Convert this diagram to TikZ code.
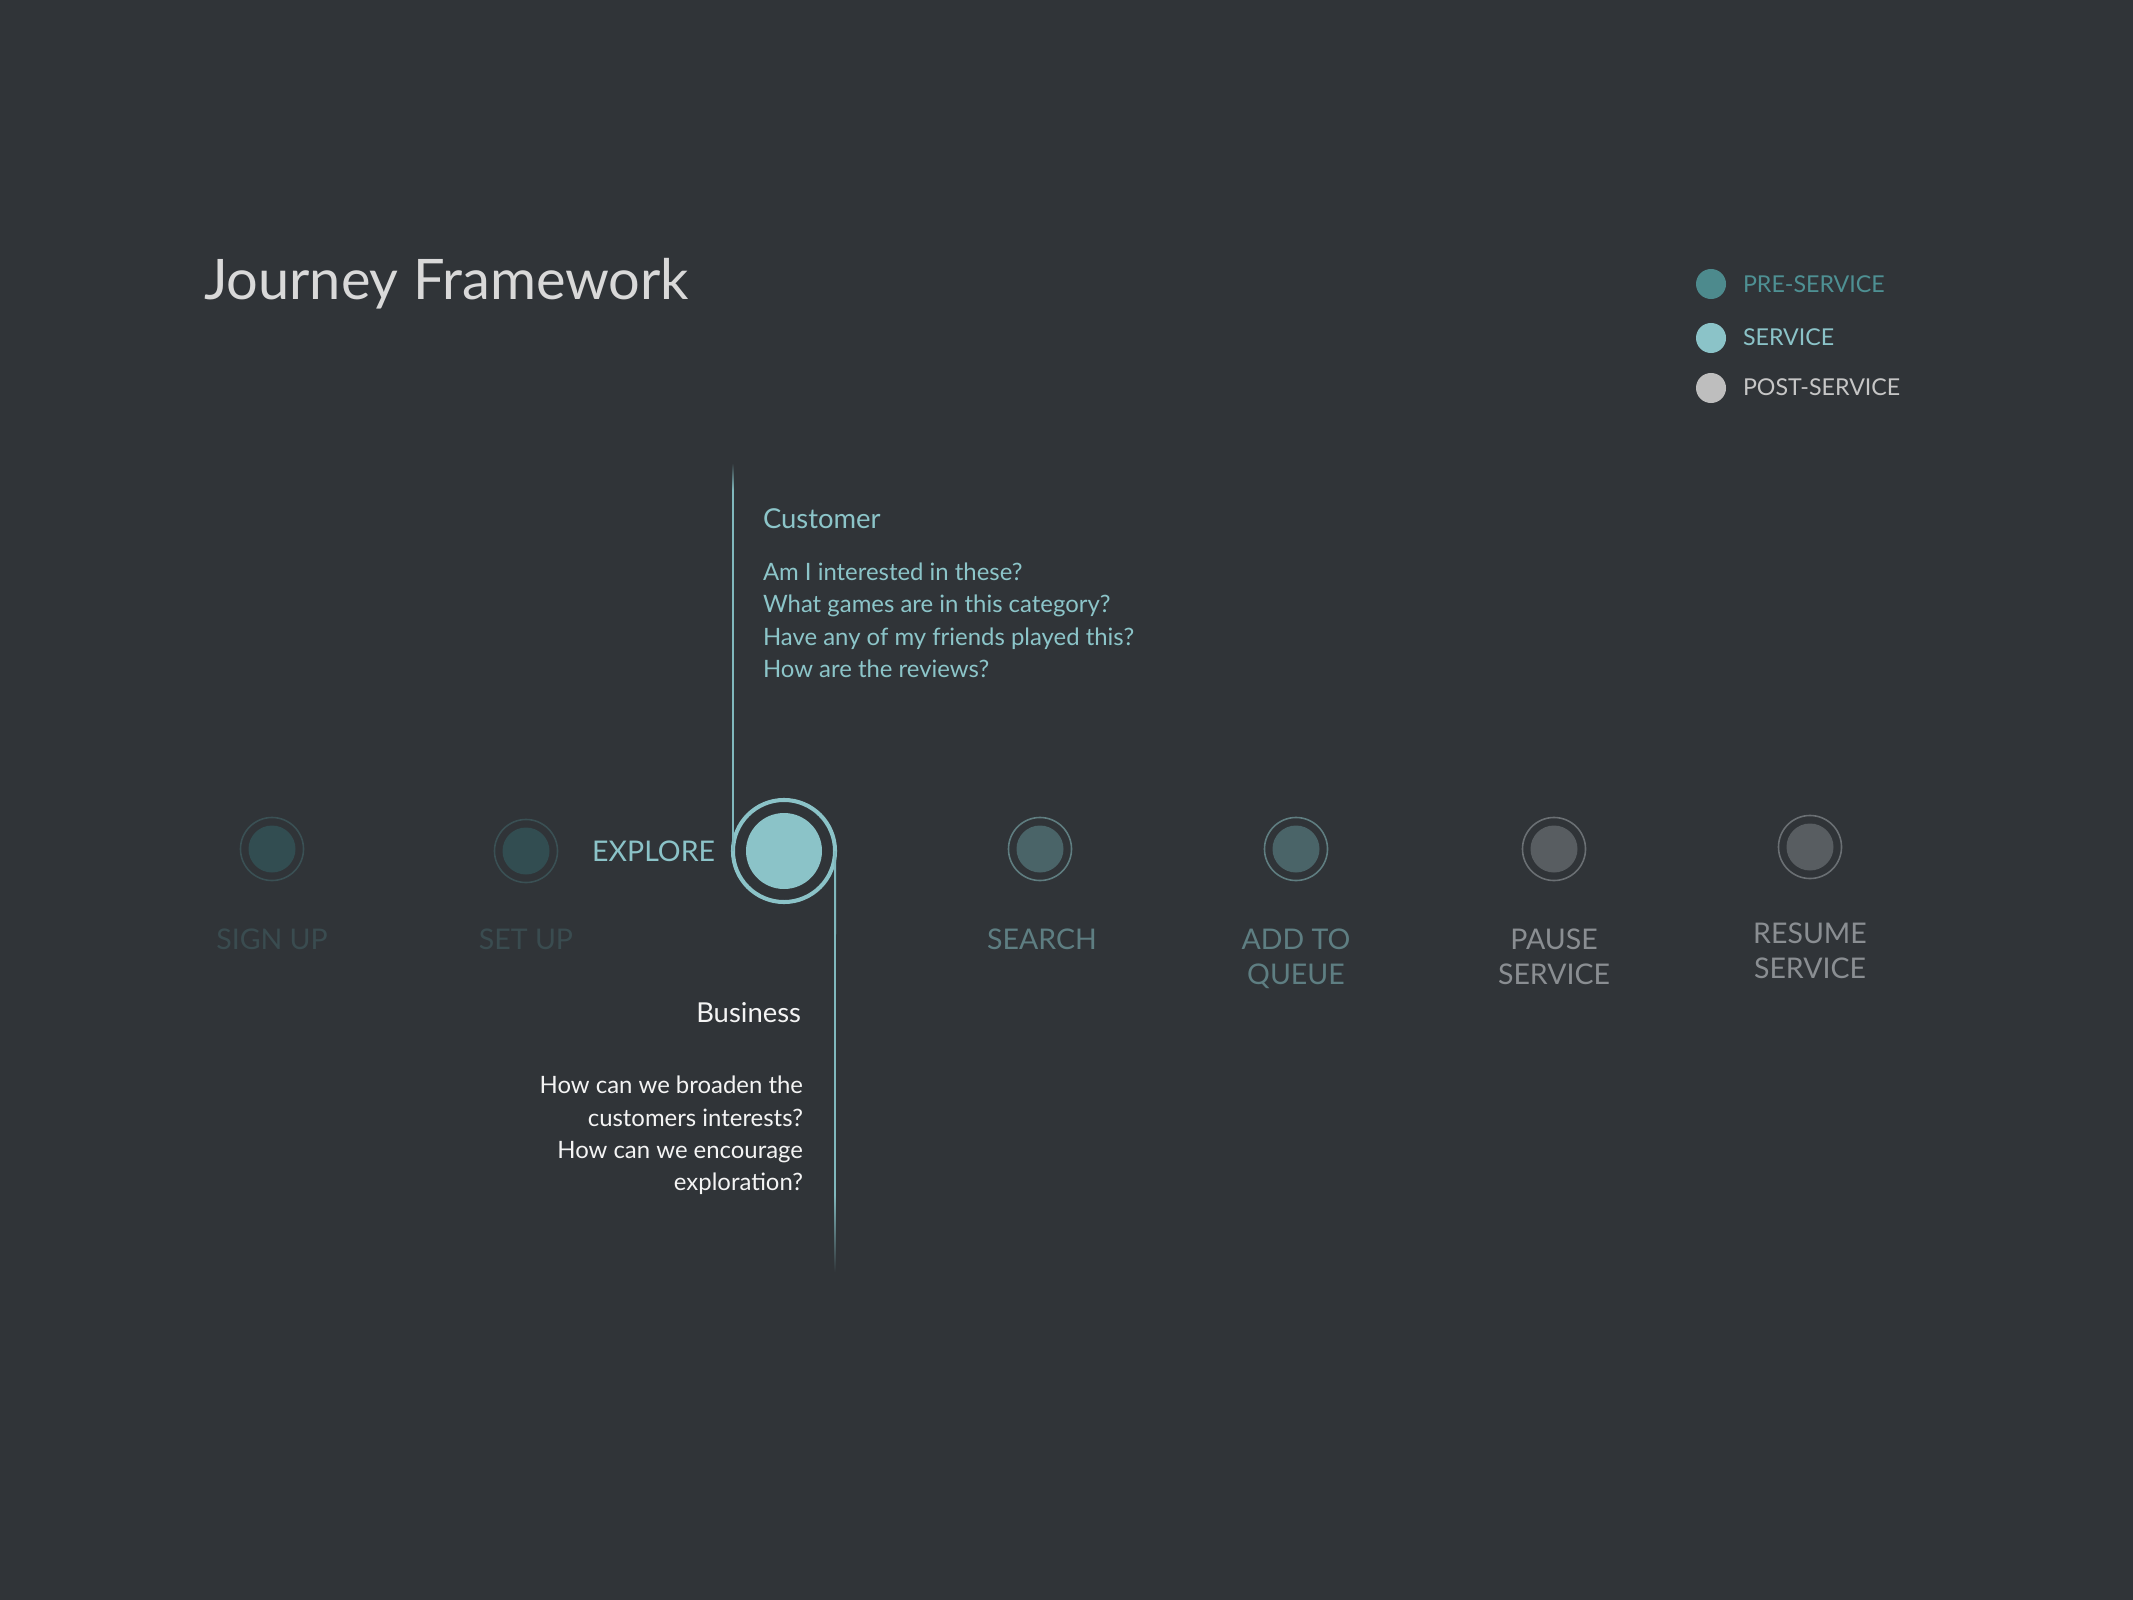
\documentclass[tikz,border=0pt]{standalone}
\usepackage{fontspec}
\setmainfont{Lato}
\definecolor{bg}{HTML}{303438}
\definecolor{tealline}{HTML}{80B8BD}
\definecolor{svc}{HTML}{8BC3C8}
\definecolor{pre}{HTML}{4D8A8D}
\definecolor{pretext}{HTML}{4E9093}
\definecolor{post}{HTML}{BEBEBE}
\definecolor{posttext}{HTML}{C6C6C6}
\definecolor{titlec}{HTML}{D9D9D9}
\definecolor{custc}{HTML}{8CC5C9}
\definecolor{busc}{HTML}{F4F4F4}
\definecolor{dimring}{HTML}{3A5054}
\definecolor{dimfill}{HTML}{324D51}
\definecolor{dimtext}{HTML}{3A4C50}
\definecolor{midring}{HTML}{5F7D80}
\definecolor{midfill}{HTML}{4A6468}
\definecolor{midtext}{HTML}{5E7E82}
\definecolor{grayring}{HTML}{6A6F73}
\definecolor{grayfill}{HTML}{585D61}
\definecolor{graytext}{HTML}{8A8E92}
\tikzset{
  txt/.style={inner sep=0pt, outer sep=0pt},
  titlefont/.style={txt, font=\fontsize{15.9}{18}\selectfont, text=titlec},
  legfont/.style={txt, font=\fontsize{6.6}{8}\selectfont},
  stagefont/.style={txt, font=\fontsize{8.1}{9.5}\selectfont},
  headfont/.style={txt, font=\fontsize{7.8}{9.5}\selectfont},
  bodyfont/.style={txt, font=\fontsize{6.8}{9}\selectfont},
  smallring/.style={circle, draw=#1, line width=0.45pt, minimum size=0.63cm, inner sep=0pt, outer sep=0pt},
  bigring/.style={circle, draw=svc, line width=1.15pt, minimum size=1.02cm, inner sep=0pt, outer sep=0pt},
  legdot/.style={circle, fill=#1, minimum size=0.3cm, inner sep=0pt},
  conn/.style={draw=tealline, line width=0.55pt},
}
\begin{document}
\begin{tikzpicture}[x=0.01cm,y=-0.01cm]
\fill[bg] (0,0) rectangle (2133,1600);
\useasboundingbox (0,0) rectangle (2133,1600);

% title
\node[titlefont, anchor=base west] (title) at (204,299) {Journey Framework};

% legend
\node[legdot=pre] (lpre) at (1711,284) {};
\node[legdot=svc] (lsvc) at (1711,338) {};
\node[legdot=post] (lpost) at (1711,388) {};
\node[legfont, text=pretext, anchor=base west] (tpre) at (1743,292) {PRE-SERVICE};
\node[legfont, text=svc, anchor=base west] (tsvc) at (1743,345) {SERVICE};
\node[legfont, text=posttext, anchor=base west] (tpost) at (1743,395) {POST-SERVICE};

% stage circles
\node[smallring=dimring] (signup) at (272,849) {};
\fill[dimfill] (signup.center) circle (23.5);
\node[smallring=dimring] (setup) at (526,851) {};
\fill[dimfill] (setup.center) circle (23.5);
\node[bigring] (explore) at (784,851) {};
\fill[svc] (explore.center) circle (38);
\node[smallring=midring] (search) at (1040,849) {};
\fill[midfill] (search.center) circle (23.5);
\node[smallring=midring] (queue) at (1296,849) {};
\fill[midfill] (queue.center) circle (23.5);
\node[smallring=grayring] (pause) at (1554,849) {};
\fill[grayfill] (pause.center) circle (23.5);
\node[smallring=grayring] (resume) at (1810,847) {};
\fill[grayfill] (resume.center) circle (23.5);

% stage labels
\node[stagefont, text=svc, anchor=base east] (lexplore) at (715,861) {EXPLORE};
\node[stagefont, text=dimtext, anchor=base] (lsignup) at (272,949) {SIGN UP};
\node[stagefont, text=dimtext, anchor=base] (lsetup) at (526,949) {SET UP};
\node[stagefont, text=midtext, anchor=base] (lsearch) at (1042,949) {SEARCH};
\node[stagefont, text=midtext, anchor=base] (lqueue1) at (1296,949) {ADD TO};
\node[stagefont, text=midtext, anchor=base] (lqueue2) at (1296,984) {QUEUE};
\node[stagefont, text=graytext, anchor=base] (lpause1) at (1554,949) {PAUSE};
\node[stagefont, text=graytext, anchor=base] (lpause2) at (1554,984) {SERVICE};
\node[stagefont, text=graytext, anchor=base] (lresume1) at (1810,943) {RESUME};
\node[stagefont, text=graytext, anchor=base] (lresume2) at (1810,978) {SERVICE};

% connectors
\coordinate (ctop) at (733,463);
\coordinate (ctopfade) at (733,490);
\coordinate (cbotfade) at (835,1195);
\coordinate (cbot) at (835,1272);
\shade[top color=bg, bottom color=tealline] ([xshift=-0.28pt]ctop) rectangle ([xshift=0.28pt]ctopfade);
\path[conn] (ctopfade) -- (explore.west);
\path[conn] (explore.east) -- (cbotfade);
\shade[top color=tealline, bottom color=bg] ([xshift=-0.28pt]cbotfade) rectangle ([xshift=0.28pt]cbot);

% customer block
\node[headfont, text=custc, anchor=base west] (custhead) at (763,528) {Customer};
\node[bodyfont, text=custc, anchor=base west] (cq1) at (763,580) {Am I interested in these?};
\node[bodyfont, text=custc, anchor=base west] (cq2) at (763,612) {What games are in this category?};
\node[bodyfont, text=custc, anchor=base west] (cq3) at (763,645) {Have any of my friends played this?};
\node[bodyfont, text=custc, anchor=base west] (cq4) at (763,677) {How are the reviews?};

% business block
\node[headfont, text=busc, anchor=base east] (bushead) at (801,1022) {Business};
\node[bodyfont, text=busc, anchor=base east] (bq1) at (803,1093) {How can we broaden the};
\node[bodyfont, text=busc, anchor=base east] (bq2) at (803,1126) {customers interests?};
\node[bodyfont, text=busc, anchor=base east] (bq3) at (803,1158) {How can we encourage};
\node[bodyfont, text=busc, anchor=base east] (bq4) at (803,1190) {exploration?};
\end{tikzpicture}
\end{document}
